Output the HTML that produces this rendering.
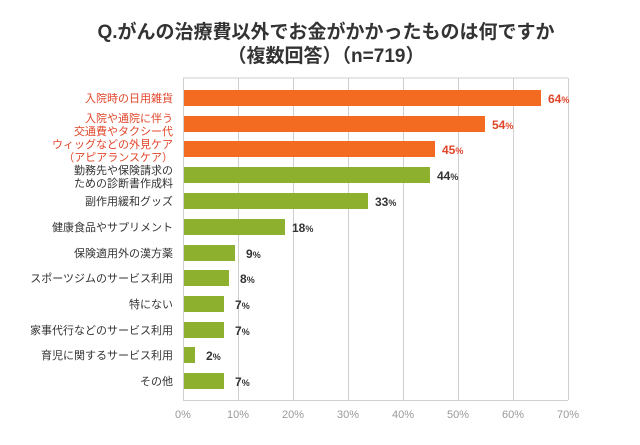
<!DOCTYPE html>
<html><head><meta charset="utf-8"><style>
body{margin:0;background:#fff;}
svg text{font-family:"Liberation Sans","Noto Sans CJK JP",sans-serif;}
</style></head><body>
<svg width="640" height="440" xmlns="http://www.w3.org/2000/svg">
<rect width="640" height="440" fill="#fff"/>
<text x="326" y="38" font-size="19" font-weight="bold" text-anchor="middle" fill="#333">Q.がんの治療費以外でお金がかかったものは何ですか</text>
<text x="326" y="62" font-size="19" font-weight="bold" text-anchor="middle" fill="#333">（複数回答）（n=719）</text>
<g stroke="#cfcfcf" stroke-width="1">
<line x1="238.5" y1="78" x2="238.5" y2="400"/>
<line x1="293.5" y1="78" x2="293.5" y2="400"/>
<line x1="348.5" y1="78" x2="348.5" y2="400"/>
<line x1="403.5" y1="78" x2="403.5" y2="400"/>
<line x1="458.5" y1="78" x2="458.5" y2="400"/>
<line x1="513.5" y1="78" x2="513.5" y2="400"/>
<line x1="568.5" y1="78" x2="568.5" y2="400"/>
<line x1="183" y1="78" x2="568" y2="78"/>
<line x1="183.5" y1="78" x2="183.5" y2="400"/>
<line x1="183" y1="400.5" x2="568" y2="400.5"/>
</g>
<g font-size="11" text-anchor="middle" fill="#999">
<text x="183" y="418">0%</text><text x="238" y="418">10%</text><text x="293" y="418">20%</text><text x="348" y="418">30%</text><text x="403" y="418">40%</text><text x="458" y="418">50%</text><text x="513" y="418">60%</text><text x="568" y="418">70%</text>
</g>
<g>
<rect x="184" y="90" width="357" height="16" fill="#f26b21"/>
<rect x="184" y="116" width="301" height="16" fill="#f26b21"/>
<rect x="184" y="141" width="251" height="16" fill="#f26b21"/>
<rect x="184" y="167" width="246" height="16" fill="#8db12f"/>
<rect x="184" y="193" width="184" height="16" fill="#8db12f"/>
<rect x="184" y="219" width="101" height="16" fill="#8db12f"/>
<rect x="184" y="245" width="51" height="16" fill="#8db12f"/>
<rect x="184" y="270" width="45" height="16" fill="#8db12f"/>
<rect x="184" y="296" width="40" height="16" fill="#8db12f"/>
<rect x="184" y="322" width="40" height="16" fill="#8db12f"/>
<rect x="184" y="347" width="11" height="16" fill="#8db12f"/>
<rect x="184" y="373" width="40" height="16" fill="#8db12f"/>
</g>
<g font-size="12" font-weight="bold">
<text x="548" y="103" fill="#e0452a">64<tspan font-size="9">%</tspan></text>
<text x="492" y="129" fill="#e0452a">54<tspan font-size="9">%</tspan></text>
<text x="442" y="154" fill="#e0452a">45<tspan font-size="9">%</tspan></text>
<g fill="#333">
<text x="437" y="180">44<tspan font-size="9">%</tspan></text>
<text x="375" y="206">33<tspan font-size="9">%</tspan></text>
<text x="292" y="232">18<tspan font-size="9">%</tspan></text>
<text x="246" y="258">9<tspan font-size="9">%</tspan></text>
<text x="240" y="283">8<tspan font-size="9">%</tspan></text>
<text x="235" y="309">7<tspan font-size="9">%</tspan></text>
<text x="235" y="335">7<tspan font-size="9">%</tspan></text>
<text x="206" y="360">2<tspan font-size="9">%</tspan></text>
<text x="235" y="386">7<tspan font-size="9">%</tspan></text>
</g></g>
<g font-size="11" text-anchor="end">
<g fill="#e0452a">
<text x="173" y="102">入院時の日用雑貨</text>
<text x="173" y="122">入院や通院に伴う</text>
<text x="173" y="135">交通費やタクシー代</text>
<text x="173" y="148">ウィッグなどの外見ケア</text>
<text x="173" y="161">（アピアランスケア）</text>
</g>
<g fill="#333">
<text x="173" y="174">勤務先や保険請求の</text>
<text x="173" y="187">ための診断書作成料</text>
<text x="173" y="205">副作用緩和グッズ</text>
<text x="173" y="231">健康食品やサプリメント</text>
<text x="173" y="257">保険適用外の漢方薬</text>
<text x="173" y="282">スポーツジムのサービス利用</text>
<text x="173" y="308">特にない</text>
<text x="173" y="334">家事代行などのサービス利用</text>
<text x="173" y="359">育児に関するサービス利用</text>
<text x="173" y="385">その他</text>
</g></g>
</svg>
</body></html>
